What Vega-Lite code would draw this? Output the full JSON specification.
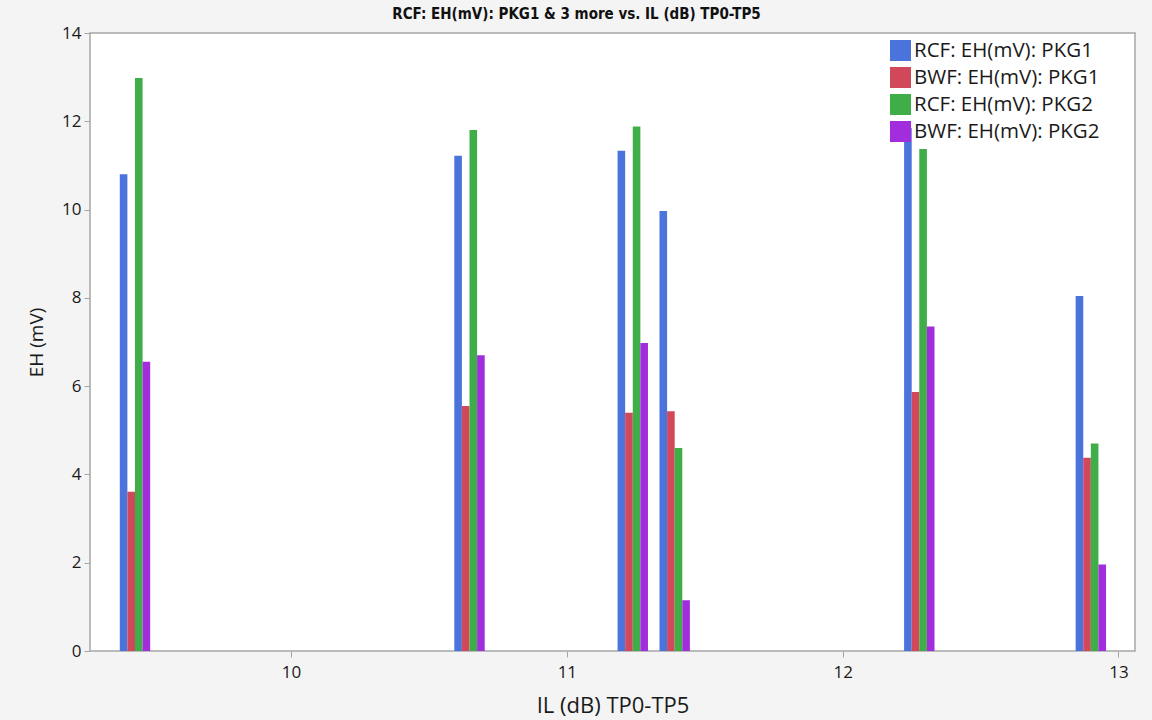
{
  "$schema": "https://vega.github.io/schema/vega-lite/v6.json",
  "width": 1045,
  "height": 618,
  "autosize": {"type": "none"},
  "padding": {"left": 90, "top": 33, "right": 17, "bottom": 69},
  "background": "#f4f4f4",
  "title": {
    "text": "RCF: EH(mV): PKG1 & 3 more vs. IL (dB) TP0-TP5",
    "font": "DejaVu Sans Condensed, Liberation Sans, sans-serif",
    "fontSize": 15,
    "fontWeight": "bold",
    "color": "#111111",
    "anchor": "middle",
    "dx": -36,
    "offset": 2
  },
  "config": {
    "view": {"fill": "white", "stroke": "#a6a6a6", "strokeWidth": 1.5},
    "axis": {
      "labelFont": "Open Sans",
      "titleFont": "Open Sans",
      "labelFontSize": 17,
      "titleFontSize": 19,
      "titleFontWeight": "normal",
      "labelColor": "#1a1a1a",
      "titleColor": "#1a1a1a",
      "domain": false,
      "grid": false,
      "tickColor": "#a6a6a6",
      "tickSize": 6
    }
  },
  "data": {
    "values": [
      {"il": 9.434, "series": "RCF: EH(mV): PKG1", "eh": 10.80},
      {"il": 9.434, "series": "BWF: EH(mV): PKG1", "eh": 3.61},
      {"il": 9.434, "series": "RCF: EH(mV): PKG2", "eh": 12.98},
      {"il": 9.434, "series": "BWF: EH(mV): PKG2", "eh": 6.55},
      {"il": 10.647, "series": "RCF: EH(mV): PKG1", "eh": 11.22},
      {"il": 10.647, "series": "BWF: EH(mV): PKG1", "eh": 5.55},
      {"il": 10.647, "series": "RCF: EH(mV): PKG2", "eh": 11.80},
      {"il": 10.647, "series": "BWF: EH(mV): PKG2", "eh": 6.70},
      {"il": 11.239, "series": "RCF: EH(mV): PKG1", "eh": 11.33},
      {"il": 11.239, "series": "BWF: EH(mV): PKG1", "eh": 5.40},
      {"il": 11.239, "series": "RCF: EH(mV): PKG2", "eh": 11.88},
      {"il": 11.239, "series": "BWF: EH(mV): PKG2", "eh": 6.98},
      {"il": 11.391, "series": "RCF: EH(mV): PKG1", "eh": 9.97},
      {"il": 11.391, "series": "BWF: EH(mV): PKG1", "eh": 5.43},
      {"il": 11.391, "series": "RCF: EH(mV): PKG2", "eh": 4.60},
      {"il": 11.391, "series": "BWF: EH(mV): PKG2", "eh": 1.15},
      {"il": 12.278, "series": "RCF: EH(mV): PKG1", "eh": 11.85},
      {"il": 12.278, "series": "BWF: EH(mV): PKG1", "eh": 5.87},
      {"il": 12.278, "series": "RCF: EH(mV): PKG2", "eh": 11.37},
      {"il": 12.278, "series": "BWF: EH(mV): PKG2", "eh": 7.35},
      {"il": 12.900, "series": "RCF: EH(mV): PKG1", "eh": 8.04},
      {"il": 12.900, "series": "BWF: EH(mV): PKG1", "eh": 4.38},
      {"il": 12.900, "series": "RCF: EH(mV): PKG2", "eh": 4.70},
      {"il": 12.900, "series": "BWF: EH(mV): PKG2", "eh": 1.96}
    ]
  },
  "encoding": {
    "x": {
      "field": "il",
      "type": "quantitative",
      "scale": {"domain": [9.289, 13.042], "nice": false, "zero": false},
      "axis": {"values": [10, 11, 12, 13], "title": "IL (dB) TP0-TP5", "labelPadding": 7, "titlePadding": 15, "titleFontSize": 22}
    },
    "y": {
      "field": "eh",
      "type": "quantitative",
      "stack": null,
      "scale": {"domain": [0, 14], "nice": false},
      "axis": {"values": [0, 2, 4, 6, 8, 10, 12, 14], "title": "EH (mV)", "labelPadding": 3, "titlePadding": 15}
    },
    "color": {
      "field": "series",
      "type": "nominal",
      "sort": ["RCF: EH(mV): PKG1", "BWF: EH(mV): PKG1", "RCF: EH(mV): PKG2", "BWF: EH(mV): PKG2"],
      "scale": {"range": ["#4A73DC", "#D0485A", "#40AE48", "#A22DDC"]},
      "legend": {
        "title": null,
        "orient": "none",
        "legendX": 800,
        "legendY": 7,
        "symbolType": "square",
        "symbolSize": 440,
        "symbolStrokeWidth": 0,
        "symbolOpacity": 1,
        "labelFont": "Open Sans",
        "labelFontSize": 20.5,
        "labelColor": "#1a1a1a",
        "labelOffset": 3,
        "rowPadding": 6,
        "labelLimit": 300
      }
    }
  },
  "layer": [
    {
      "transform": [{"filter": "datum.series === 'RCF: EH(mV): PKG1'"}],
      "mark": {"type": "bar", "width": 7.6, "xOffset": -11.4}
    },
    {
      "transform": [{"filter": "datum.series === 'BWF: EH(mV): PKG1'"}],
      "mark": {"type": "bar", "width": 7.6, "xOffset": -3.8}
    },
    {
      "transform": [{"filter": "datum.series === 'RCF: EH(mV): PKG2'"}],
      "mark": {"type": "bar", "width": 7.6, "xOffset": 3.8}
    },
    {
      "transform": [{"filter": "datum.series === 'BWF: EH(mV): PKG2'"}],
      "mark": {"type": "bar", "width": 7.6, "xOffset": 11.4}
    }
  ]
}
